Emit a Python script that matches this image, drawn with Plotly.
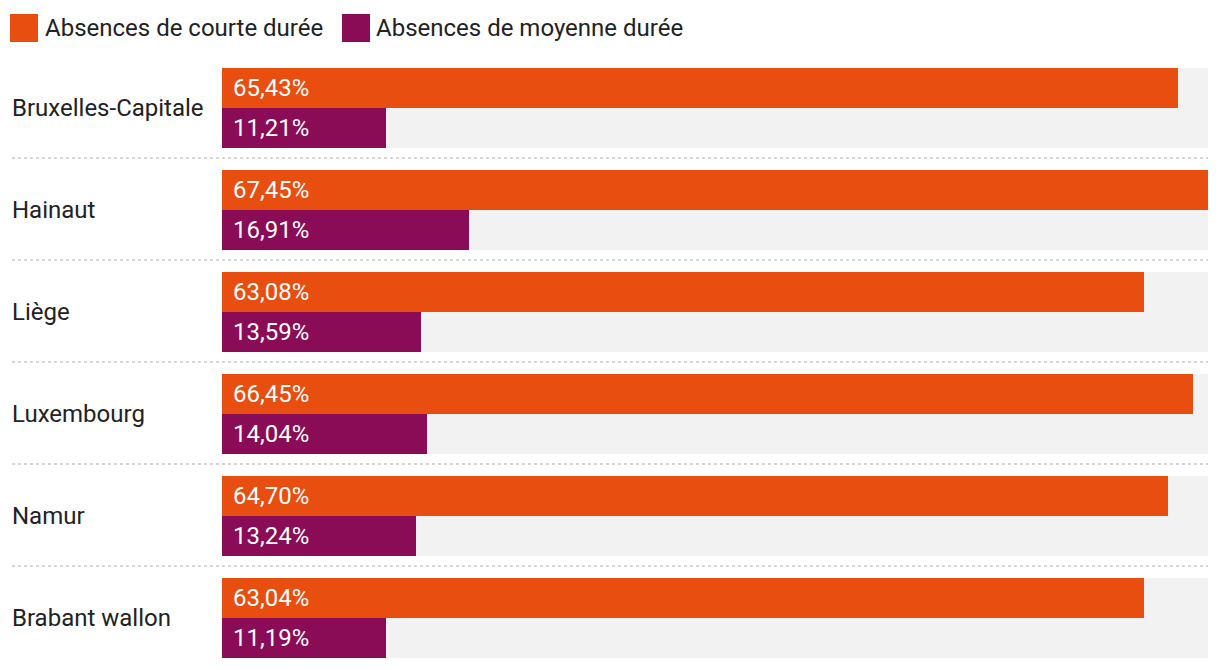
import plotly.graph_objects as go

categories = ["Bruxelles-Capitale", "Hainaut", "Liège", "Luxembourg", "Namur", "Brabant wallon"]
courte = [65.43, 67.45, 63.08, 66.45, 64.70, 63.04]
moyenne = [11.21, 16.91, 13.59, 14.04, 13.24, 11.19]
series_names = ["Absences de courte durée", "Absences de moyenne durée"]

ORANGE = "#E84E0F"
PURPLE = "#8A0B56"
BG = "#F2F2F2"
TEXT = "#222222"
FONT = "Roboto"
FS = 24

# page body has an 8px margin; compensate so the drawing lands at screen coords
PAGE = 8
W, H = 1220 - PAGE, 670 - PAGE
ML, MR, MT, MB = 222 - PAGE, 12, 57 - PAGE, 1
PW = W - ML - MR
PH = H - MT - MB
GROUP_PX = PH / len(categories)

xmax = max(courte + moyenne)
idx = list(range(len(categories)))
off = 20 / GROUP_PX
bw = 40 / GROUP_PX

def fmt(v):
    return f"{v:.2f}".replace(".", ",") + "%"

def px_x(p):  # screen px -> paper x
    return (p - PAGE - ML) / PW

def px_y(p):  # screen px -> paper y
    return 1 + (MT + PAGE - p) / PH

fig = go.Figure()
fig.add_trace(go.Bar(
    y=idx, x=[xmax] * len(idx), orientation="h", width=80 / GROUP_PX,
    marker=dict(color=BG, line=dict(width=0)), showlegend=False, hoverinfo="skip",
))
fig.add_trace(go.Bar(
    y=[i - off for i in idx], x=courte, orientation="h", width=bw,
    marker=dict(color=ORANGE, line=dict(width=0)), name=series_names[0], showlegend=False,
))
fig.add_trace(go.Bar(
    y=[i + off for i in idx], x=moyenne, orientation="h", width=bw,
    marker=dict(color=PURPLE, line=dict(width=0)), name=series_names[1], showlegend=False,
))

annotations = []
for i, (c, a, b) in enumerate(zip(categories, courte, moyenne)):
    annotations.append(dict(x=px_x(10), xref="paper", y=i, yref="y", text=c,
                            xanchor="left", yanchor="middle", showarrow=False,
                            font=dict(family=FONT, size=FS, color=TEXT)))
    annotations.append(dict(x=0, xref="x", xshift=9, y=i - off, yref="y", text=fmt(a),
                            xanchor="left", yanchor="middle", showarrow=False,
                            font=dict(family=FONT, size=FS, color="white")))
    annotations.append(dict(x=0, xref="x", xshift=9, y=i + off, yref="y", text=fmt(b),
                            xanchor="left", yanchor="middle", showarrow=False,
                            font=dict(family=FONT, size=FS, color="white")))

shapes = []
for i in idx[:-1]:
    yy = i + 0.5 - 1 / GROUP_PX
    shapes.append(dict(type="line", xref="paper", yref="y", x0=px_x(12), x1=1,
                       y0=yy, y1=yy, line=dict(color="#D6D6D6", width=2, dash="dot")))

# manual legend (square + label)
legend_items = [(10, 43, ORANGE, series_names[0]), (342, 374, PURPLE, series_names[1])]
for sx, tx, col, name in legend_items:
    shapes.append(dict(type="rect", xref="paper", yref="paper", x0=px_x(sx), x1=px_x(sx + 28),
                       y0=px_y(42), y1=px_y(14), fillcolor=col, line=dict(width=0)))
    annotations.append(dict(x=px_x(tx), xref="paper", y=px_y(28), yref="paper", text=name,
                            xanchor="left", yanchor="middle", showarrow=False,
                            font=dict(family=FONT, size=FS, color=TEXT)))

fig.update_layout(
    width=W, height=H,
    margin=dict(l=ML, r=MR, t=MT, b=MB),
    paper_bgcolor="white", plot_bgcolor="white",
    barmode="overlay", bargap=0,
    xaxis=dict(range=[0, xmax], visible=False, fixedrange=True),
    yaxis=dict(range=[len(categories) - 0.5, -0.5], visible=False, fixedrange=True),
    annotations=annotations, shapes=shapes,
    font=dict(family=FONT),
)

fig.write_html("out.html", config={"displayModeBar": False})
